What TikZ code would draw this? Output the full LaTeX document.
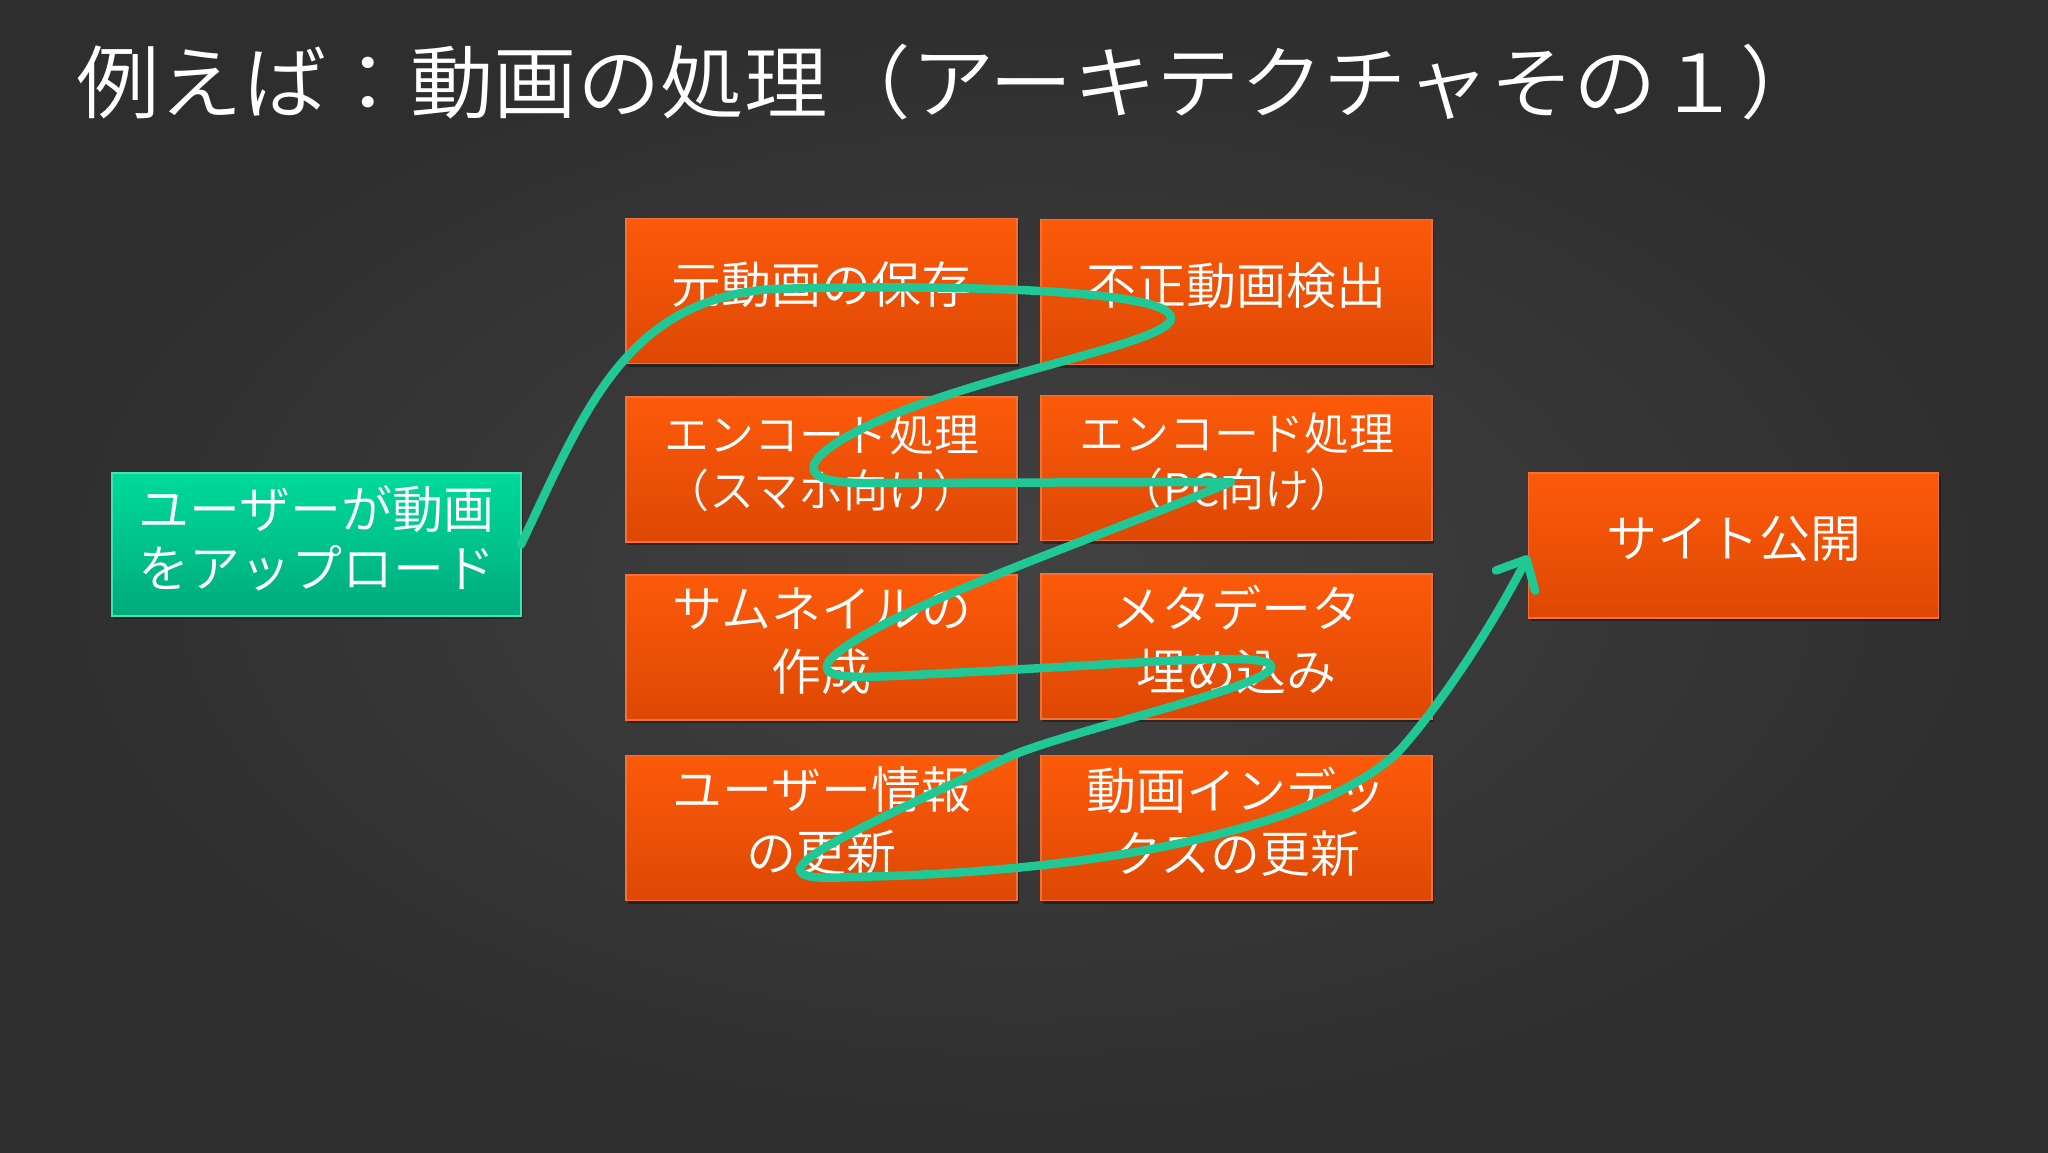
\documentclass[tikz,border=0pt]{standalone}
\usepackage{fontspec}
\IfFontExistsTF{Noto Sans CJK JP DemiLight}
  {\setmainfont{Noto Sans CJK JP DemiLight}}
  {\IfFontExistsTF{Noto Sans CJK JP Light}
     {\setmainfont{Noto Sans CJK JP Light}}
     {\setmainfont{Noto Sans CJK JP}}}
\usetikzlibrary{arrows.meta,shadows,calc}
\definecolor{bgin}{RGB}{66,66,66}
\definecolor{bgout}{RGB}{46,46,46}
\definecolor{otop}{RGB}{252,90,10}
\definecolor{obot}{RGB}{222,72,4}
\definecolor{oedge}{RGB}{246,112,52}
\definecolor{gtop}{RGB}{0,218,156}
\definecolor{gbot}{RGB}{0,170,124}
\definecolor{gedge}{RGB}{60,230,175}
\definecolor{flowc}{RGB}{32,200,150}
\newcommand{\lowstrut}{\rule[-17pt]{0pt}{17pt}}
\tikzset{
  boxbase/.style={rectangle, inner sep=0pt, outer sep=0pt, minimum width=391pt, minimum height=145pt,
    text=white, align=center, line width=1.2pt, execute at end node=\lowstrut,
    drop shadow={shadow xshift=2pt, shadow yshift=-3pt, opacity=0.35, fill=black}},
  obox/.style={boxbase, draw=oedge, top color=otop, bottom color=obot, font={\fontsize{50}{63}\selectfont}},
  oboxs/.style={obox, font={\fontsize{45}{56}\selectfont}},
  gbox/.style={boxbase, draw=gedge, top color=gtop, bottom color=gbot, minimum width=409pt, minimum height=143pt,
    font={\fontsize{51}{59}\selectfont}},
  flow/.style={draw=flowc, line width=8.5pt, line cap=round, line join=round,
    -{Straight Barb[length=24pt,width=44pt,line cap=round,line join=round]}}
}
\begin{document}
\begin{tikzpicture}[x=1pt,y=-1pt]
% background
\path[inner color=bgin, outer color=bgout] (0,0) rectangle (2048,1152);
\useasboundingbox (0,0) rectangle (2048,1152);

% title
\node[anchor=west, inner sep=0pt, text=white, font={\fontsize{80}{90}\selectfont}] (title) at (76,82)
  {\scalebox{1.044}[1]{例えば：動画の処理（アーキテクチャその１）}};

% boxes
\node[gbox] (up) at (316.5,544.5) {ユーザーが動画\\をアップロード};
\node[obox] (orig) at (821.5,291) {元動画の保存};
\node[obox] (fraud) at (1236.5,292) {不正動画検出};
\node[oboxs] (encsp) at (821.5,469.5) {エンコード処理\\（スマホ向け）};
\node[oboxs] (encpc) at (1236.5,468) {エンコード処理\\（PC向け）};
\node[obox] (thumb) at (821.5,647.5) {サムネイルの\\作成};
\node[obox] (meta) at (1236.5,646.5) {メタデータ\\埋め込み};
\node[obox] (user) at (821.5,828) {ユーザー情報\\の更新};
\node[obox] (index) at (1236.5,828) {動画インデッ\\クスの更新};
\node[obox, minimum width=410pt, font={\fontsize{51}{60}\selectfont}] (site) at (1733.5,545.5) {サイト公開};

% flow
\draw[flow] (up.east) .. controls (585,410) and (625,300) .. (772,289)
  .. controls (960,284) and (1171,290) .. (1171,318)
  .. controls (1171,342) and (1000,370) .. (887,417)
  .. controls (800,455) and (785,484) .. (870,483)
  -- (1231,482)
  .. controls (1080,545) and (870,615) .. (830,660)
  .. controls (812,683) and (870,677) .. (950,673)
  .. controls (1150,663) and (1278,650) .. (1271,668)
  .. controls (1265,688) and (1050,735) .. (1002,760)
  .. controls (870,825) and (720,885) .. (850,877)
  .. controls (1130,872) and (1330,820) .. (1400,750)
  .. controls (1440,705) and (1490,630) .. ([yshift=-10pt]site.west);
\end{tikzpicture}
\end{document}
